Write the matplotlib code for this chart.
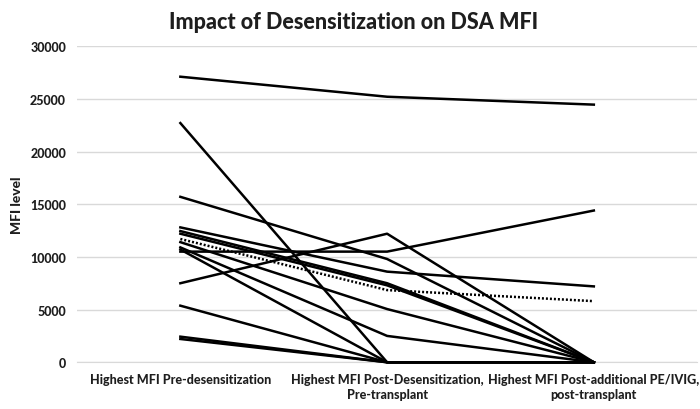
import matplotlib
matplotlib.use('Agg')
import matplotlib.pyplot as plt
import numpy as np

plt.rcParams['font.family'] = ['Lato', 'DejaVu Sans']

# categories on the x axis
stages = ['Highest MFI Pre-desensitization',
          'Highest MFI Post-Desensitization,\nPre-transplant',
          'Highest MFI Post-additional PE/IVIG,\npost-transplant']

# DSA MFI per patient (pre, post-desens, post-PE/IVIG)
pre_desens = [27100, 22700, 15700, 7500, 10500, 12800, 12450, 12200, 11400, 10900, 10700, 5370, 2430, 2210]
post_desens = [25200, 0, 9800, 12200, 10500, 8600, 7500, 7300, 5050, 2500, 0, 0, 0, 0]
post_pe_ivig = [24450, 0, 0, 0, 14400, 7200, 0, 0, 0, 0, 0, 0, 0, 0]

# average line (dotted)
avg_mfi = [11700, 6850, 5800]

x = np.arange(len(stages))

fig = plt.figure(figsize=(7, 4.1), dpi=100)
ax = fig.add_axes([0.11, 0.114, 0.886, 0.771])

for a, b, c in zip(pre_desens, post_desens, post_pe_ivig):
    ax.plot(x, [a, b, c], color='black', lw=1.8, clip_on=False, zorder=3)
ax.plot(x, avg_mfi, color='black', lw=1.8, linestyle=(0, (0.8, 0.8)), zorder=3)

txt = '#1e1e1e'
ax.set_xlim(-0.5, 2.5)
ax.set_ylim(0, 30000)
ax.set_yticks(np.arange(0, 30001, 5000))
ax.set_xticks(x)
ax.set_xticklabels(stages, fontsize=9, fontweight='black', color=txt, linespacing=1.3)
for lbl in ax.get_yticklabels():
    lbl.set_fontsize(9)
    lbl.set_fontweight('black')
    lbl.set_color(txt)

ax.grid(axis='y', color='#d9d9d9', lw=1)
ax.set_axisbelow(True)
for s in ['top', 'right', 'left']:
    ax.spines[s].set_visible(False)
ax.spines['bottom'].set_color('#d9d9d9')
ax.tick_params(length=0, pad=8)

ax.set_ylabel('MFI level', fontsize=10, fontweight='black', color=txt, labelpad=5)
fig.text(0.505, 0.945, 'Impact of Desensitization on DSA MFI', ha='center', va='center',
         fontsize=15.5, fontweight='black', color=txt)

fig.savefig('out.png', dpi=100)
